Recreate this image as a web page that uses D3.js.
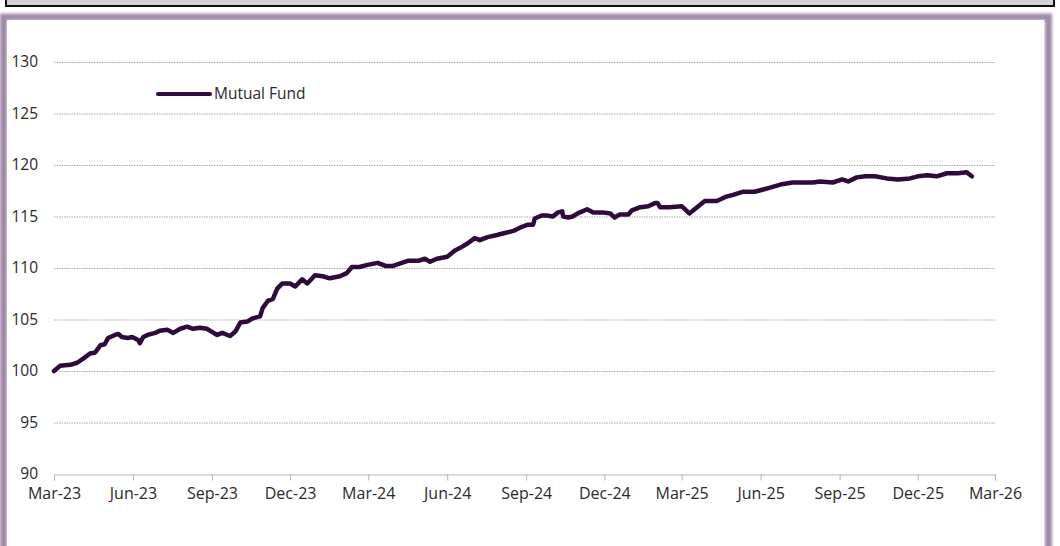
<!doctype html>
<html>
<head>
<script src="https://d3js.org/d3.v7.min.js"></script>
<style>
  body { margin: 0; background: #fff; }
  svg { display: block; }
  text { font-family: "Open Sans", "Noto Sans", sans-serif; fill: #2a2a2a; }
</style>
</head>
<body>
<div id="chart"></div>
<script>
// series
var dates = ["2023-03-01","2023-03-08","2023-03-20","2023-03-28","2023-04-04","2023-04-12","2023-04-18","2023-04-24","2023-04-29",
  "2023-05-03","2023-05-11","2023-05-15","2023-05-19","2023-05-26","2023-05-31","2023-06-07","2023-06-09","2023-06-13","2023-06-18",
  "2023-06-27","2023-07-02","2023-07-11","2023-07-18","2023-07-26","2023-08-03","2023-08-10","2023-08-18","2023-08-26","2023-09-01",
  "2023-09-07","2023-09-13","2023-09-22","2023-09-28","2023-10-04","2023-10-12","2023-10-18","2023-10-27","2023-10-30","2023-11-05",
  "2023-11-11","2023-11-16","2023-11-22","2023-12-01","2023-12-07","2023-12-15","2023-12-21","2023-12-30","2024-01-08","2024-01-16",
  "2024-01-28","2024-02-05","2024-02-11","2024-02-20","2024-02-29","2024-03-12","2024-03-21","2024-03-30","2024-04-09","2024-04-16",
  "2024-04-28","2024-05-06","2024-05-12","2024-05-20","2024-06-01","2024-06-10","2024-06-19","2024-06-25","2024-07-03","2024-07-09",
  "2024-07-18","2024-07-29","2024-08-07","2024-08-17","2024-08-27","2024-09-03","2024-09-09","2024-09-11","2024-09-19","2024-09-25",
  "2024-10-02","2024-10-08","2024-10-13","2024-10-14","2024-10-20","2024-10-25","2024-10-31","2024-11-11","2024-11-18","2024-11-29",
  "2024-12-08","2024-12-13","2024-12-19","2024-12-29","2025-01-02","2025-01-12","2025-01-21","2025-01-29","2025-02-01","2025-02-04",
  "2025-02-15","2025-03-01","2025-03-10","2025-03-19","2025-03-28","2025-04-11","2025-04-21","2025-04-30","2025-05-11","2025-05-25",
  "2025-06-03","2025-06-12","2025-06-24","2025-07-08","2025-07-20","2025-08-01","2025-08-09","2025-08-24","2025-09-04","2025-09-11",
  "2025-09-21","2025-10-01","2025-10-12","2025-10-26","2025-11-08","2025-11-22","2025-12-01","2025-12-12","2025-12-23","2026-01-04",
  "2026-01-17","2026-01-27","2026-02-02"];
var fund = [100.0,100.5,100.6,100.8,101.2,101.7,101.8,102.5,102.6,
  103.2,103.5,103.6,103.3,103.2,103.3,103.0,102.7,103.3,103.5,
  103.7,103.9,104.0,103.7,104.1,104.3,104.1,104.2,104.1,103.8,
  103.5,103.7,103.4,103.8,104.7,104.8,105.1,105.3,106.1,106.8,
  107.0,108.0,108.5,108.5,108.2,108.9,108.5,109.3,109.2,109.0,
  109.2,109.5,110.1,110.1,110.3,110.5,110.2,110.2,110.5,110.7,
  110.7,110.9,110.6,110.9,111.1,111.7,112.1,112.4,112.9,112.7,
  113.0,113.2,113.4,113.6,114.0,114.2,114.2,114.8,115.1,115.1,
  115.0,115.4,115.5,115.0,114.9,115.0,115.3,115.7,115.4,115.4,
  115.3,114.9,115.2,115.2,115.6,115.9,116.0,116.3,116.3,115.9,
  115.9,116.0,115.3,115.9,116.5,116.5,116.9,117.1,117.4,117.4,
  117.6,117.8,118.1,118.3,118.3,118.3,118.4,118.3,118.6,118.4,
  118.8,118.9,118.9,118.7,118.6,118.7,118.9,119.0,118.9,119.2,
  119.2,119.3,118.9];
var seriesName = "Mutual Fund";
var yTicks = [90, 95, 100, 105, 110, 115, 120, 125, 130];
var xStart = "2023-03-01", xEnd = "2026-03-01";

var W = 1060, H = 546;
var margin = {left: 54, right: 65, top: 62, bottom: 72};
var parse = d3.timeParse("%Y-%m-%d");
var data = dates.map(function(d, i) { return {date: parse(d), value: fund[i]}; });

var svg = d3.select("#chart").append("svg").attr("width", W).attr("height", H);

var defs = svg.append("defs");
defs.append("filter").attr("id", "blur").attr("x", "-5%").attr("y", "-5%").attr("width", "110%").attr("height", "110%")
  .append("feGaussianBlur").attr("stdDeviation", 1.8);

// frame: grey title strip and purple panel border
svg.append("rect").attr("x", 6).attr("y", -4).attr("width", 1048).attr("height", 10)
  .attr("fill", "#d3d3d3").attr("stroke", "#111").attr("stroke-width", 2);
svg.append("rect").attr("x", 3.5).attr("y", 17).attr("width", 1045).attr("height", 545)
  .attr("fill", "none").attr("stroke", "#a088a9").attr("stroke-width", 7).attr("filter", "url(#blur)");
svg.append("rect").attr("x", 7).attr("y", 20).attr("width", 1037).attr("height", 540).attr("fill", "#fff");

var x = d3.scaleTime().domain([parse(xStart), parse(xEnd)]).range([margin.left, W - margin.right]);
var y = d3.scaleLinear().domain([90, 130]).range([H - margin.bottom, margin.top]);

// dotted gridlines
svg.append("g").selectAll("line").data(yTicks.filter(function(t) { return t > 90; })).enter().append("line")
  .attr("x1", x.range()[0]).attr("x2", x.range()[1])
  .attr("y1", function(d) { return y(d) + 0.5; }).attr("y2", function(d) { return y(d) + 0.5; })
  .attr("stroke", "#a8a8a8").attr("stroke-width", 1).attr("stroke-dasharray", "1.5,1");

// y labels
svg.append("g").selectAll("text").data(yTicks).enter().append("text")
  .attr("x", 38).attr("y", function(d) { return y(d) + 5; })
  .attr("text-anchor", "end").style("font-size", "15.5px").text(function(d) { return d; });

// x axis, a tick every quarter starting at Mar-23
var quarters = d3.timeMonth.range(parse(xStart), d3.timeDay.offset(parse(xEnd), 1), 3);
var xAxis = d3.axisBottom(x).tickValues(quarters)
  .tickFormat(d3.timeFormat("%b-%y")).tickSize(6).tickPadding(7);
var gx = svg.append("g").attr("transform", "translate(0," + (y(90) + 0.5) + ")").call(xAxis);
gx.select(".domain").attr("stroke", "#b5b5b5");
gx.selectAll(".tick line").attr("stroke", "#b5b5b5");
gx.selectAll("text").style("font-size", "16px").style("font-family", "'Open Sans', 'Noto Sans', sans-serif").attr("fill", "#2a2a2a");

// line
var line = d3.line().x(function(d) { return x(d.date); }).y(function(d) { return y(d.value); });
svg.append("path").datum(data).attr("d", line)
  .attr("fill", "none").attr("stroke", "#2e0b3b").attr("stroke-width", 4.5)
  .attr("stroke-linejoin", "round").attr("stroke-linecap", "round");

// legend
var lg = svg.append("g").attr("transform", "translate(158,94)");
lg.append("line").attr("x1", 0).attr("x2", 52).attr("stroke", "#2e0b3b").attr("stroke-width", 4).attr("stroke-linecap", "round");
lg.append("text").attr("x", 56).attr("y", 5).style("font-size", "15.5px").text(seriesName);
</script>
</body>
</html>
